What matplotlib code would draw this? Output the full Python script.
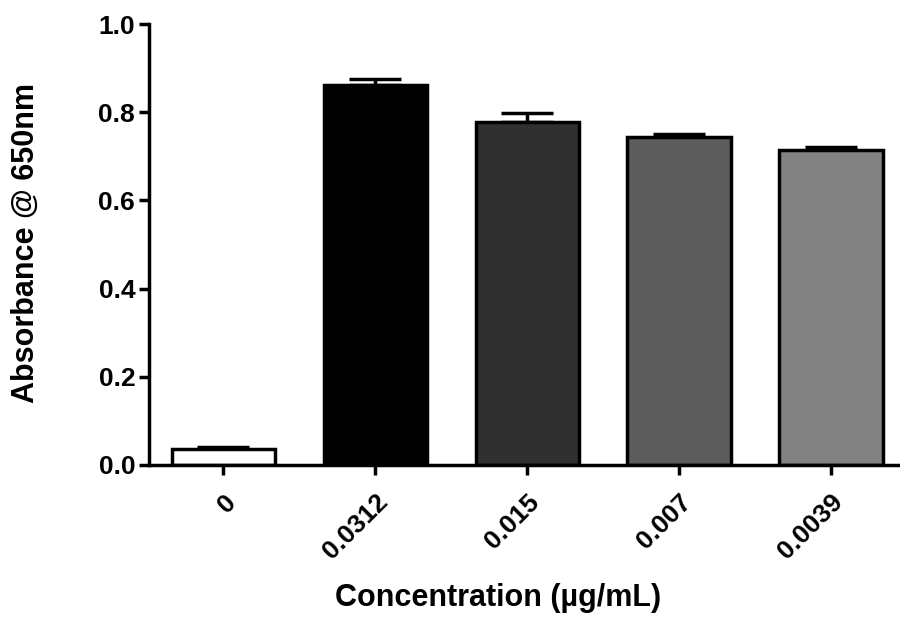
import matplotlib.pyplot as plt

plt.rcParams['font.family'] = ['Liberation Sans', 'DejaVu Sans']
plt.rcParams['font.weight'] = 'bold'

# data
concentrations = ["0", "0.0312", "0.015", "0.007", "0.0039"]
absorbance = [0.036, 0.862, 0.778, 0.744, 0.714]
error_up = [0.004, 0.013, 0.020, 0.007, 0.006]
bar_colors = ["#ffffff", "#000000", "#303030", "#5c5c5c", "#828282"]

fig = plt.figure(figsize=(9, 6.17), dpi=100)
ax = fig.add_axes([0.1656, 0.2464, 0.8344, 0.7147])

x = list(range(len(concentrations)))
ax.errorbar(x, absorbance, yerr=[[0] * len(x), error_up], fmt="none",
            ecolor="black", elinewidth=2.5, capsize=19, capthick=2.5, zorder=1)
ax.bar(x, absorbance, width=0.68, color=bar_colors, edgecolor="black",
       linewidth=2.5, zorder=2)

ax.set_xlim(-0.49, 4.455)
ax.set_ylim(0, 1.0)
ax.set_yticks([0.0, 0.2, 0.4, 0.6, 0.8, 1.0])
ax.set_yticklabels(["0.0", "0.2", "0.4", "0.6", "0.8", "1.0"])
ax.set_xticks(x)
ax.set_xticklabels(concentrations, rotation=45, ha="right", rotation_mode="anchor")

for side in ["top", "right"]:
    ax.spines[side].set_visible(False)
for side in ["left", "bottom"]:
    ax.spines[side].set_linewidth(2.5)
ax.tick_params(axis="both", width=2.5, length=7, labelsize=19, colors="black")
ax.tick_params(axis="x", pad=11)
ax.tick_params(axis="y", pad=3)

fig.text(26 / 900, 1 - 243 / 617, "Absorbance @ 650nm", fontsize=22,
         fontweight="bold", rotation=90, ha="center", va="center")
fig.text(498 / 900, 1 - 598 / 617, "Concentration (\u00b5g/mL)", fontsize=22,
         fontweight="bold", ha="center", va="center")

fig.savefig("out.png", dpi=100)
